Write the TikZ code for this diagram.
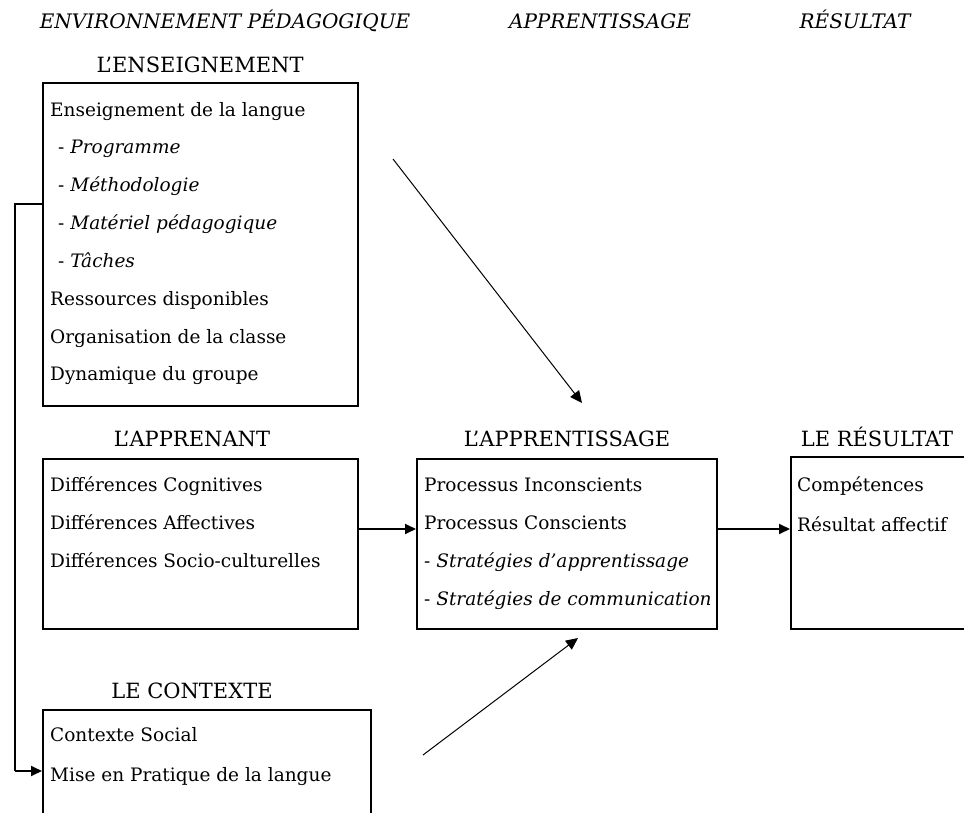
\documentclass[tikz,border=0pt]{standalone}
\usepackage{fontspec}
\setmainfont{DejaVu Serif}
\usetikzlibrary{arrows.meta}
\begin{document}
\begin{tikzpicture}[x=1pt,y=-1pt,
  box/.style={draw,line width=1.8pt,anchor=north west,inner sep=0pt},
  txt/.style={anchor=base west,inner sep=0pt,font=\fontsize{18.5}{20}\selectfont},
  ttl/.style={anchor=base,inner sep=0pt,font=\fontsize{21}{22}\selectfont},
  hdr/.style={anchor=base,inner sep=0pt,font=\fontsize{20}{22}\selectfont\itshape},
  conn/.style={line width=1.8pt,-{Triangle[length=11pt,width=10pt]}},
  diag/.style={line width=1pt,-{Triangle[length=12pt,width=11pt]}}]
\useasboundingbox (0,0) rectangle (964,813);
\clip (0,0) rectangle (964,813);
\fill[white] (0,0) rectangle (964,813);

% headers
\node[hdr] (h1) at (225,29) {ENVIRONNEMENT PÉDAGOGIQUE};
\node[hdr] (h2) at (600,29) {APPRENTISSAGE};
\node[hdr] (h3) at (855,29) {RÉSULTAT};

% titles
\node[ttl] (t1) at (200,73) {L’ENSEIGNEMENT};
\node[ttl] (t2) at (192,446) {L’APPRENANT};
\node[ttl] (t3) at (567,446) {L’APPRENTISSAGE};
\node[ttl] (t4) at (877,446) {LE RÉSULTAT};
\node[ttl] (t5) at (192,698) {LE CONTEXTE};

% boxes
\node[box,minimum width=315pt,minimum height=323pt] (b1) at (42,82) {};
\node[box,minimum width=315pt,minimum height=170pt] (b2) at (42,458) {};
\node[box,minimum width=300pt,minimum height=170pt] (b3) at (416,458) {};
\node[box,minimum width=260pt,minimum height=172pt] (b4) at (790,456) {};
\node[box,minimum width=328pt,minimum height=200pt] (b5) at (42,709) {};

% box 1 text
\node[txt] (l11) at (50,117) {Enseignement de la langue};
\node[txt] (l12) at (58,154) {- \textit{Programme}};
\node[txt] (l13) at (58,192) {- \textit{Méthodologie}};
\node[txt] (l14) at (58,230) {- \textit{Matériel pédagogique}};
\node[txt] (l15) at (58,268) {- \textit{Tâches}};
\node[txt] (l16) at (50,305) {Ressources disponibles};
\node[txt] (l17) at (50,343) {Organisation de la classe};
\node[txt] (l18) at (50,380) {Dynamique du groupe};

% box 2 text
\node[txt] (l21) at (50,491) {Différences Cognitives};
\node[txt] (l22) at (50,529) {Différences Affectives};
\node[txt] (l23) at (50,567) {Différences Socio-culturelles};

% box 3 text
\node[txt] (l31) at (424,491) {Processus Inconscients};
\node[txt] (l32) at (424,529) {Processus Conscients};
\node[txt] (l33) at (424,567) {- \textit{Stratégies d’apprentissage}};
\node[txt] (l34) at (424,605) {- \textit{Stratégies de communication}};

% box 4 text
\node[txt] (l41) at (797,491) {Compétences};
\node[txt] (l42) at (797,531) {Résultat affectif};

% box 5 text
\node[txt] (l51) at (50,741) {Contexte Social};
\node[txt] (l52) at (50,781) {Mise en Pratique de la langue};

% connectors
\coordinate (yA) at (0,204);
\coordinate (yB) at (0,771);
\coordinate (xL) at (15,0);
\coordinate (yC) at (0,529);
\draw[line width=1.8pt] (b1.west |- yA) -- (xL |- yA) -- (xL |- yB);
\draw[conn] (xL |- yB) -- (b5.west |- yB);
\draw[conn] (b2.east |- yC) -- (b3.west |- yC);
\draw[conn] (b3.east |- yC) -- (b4.west |- yC);

\coordinate (d1s) at (393,159);
\coordinate (d1e) at (582,403);
\draw[diag] (d1s) -- (d1e);
\coordinate (d2s) at (423,755);
\coordinate (d2e) at (578,638);
\draw[diag] (d2s) -- (d2e);
\end{tikzpicture}
\end{document}
